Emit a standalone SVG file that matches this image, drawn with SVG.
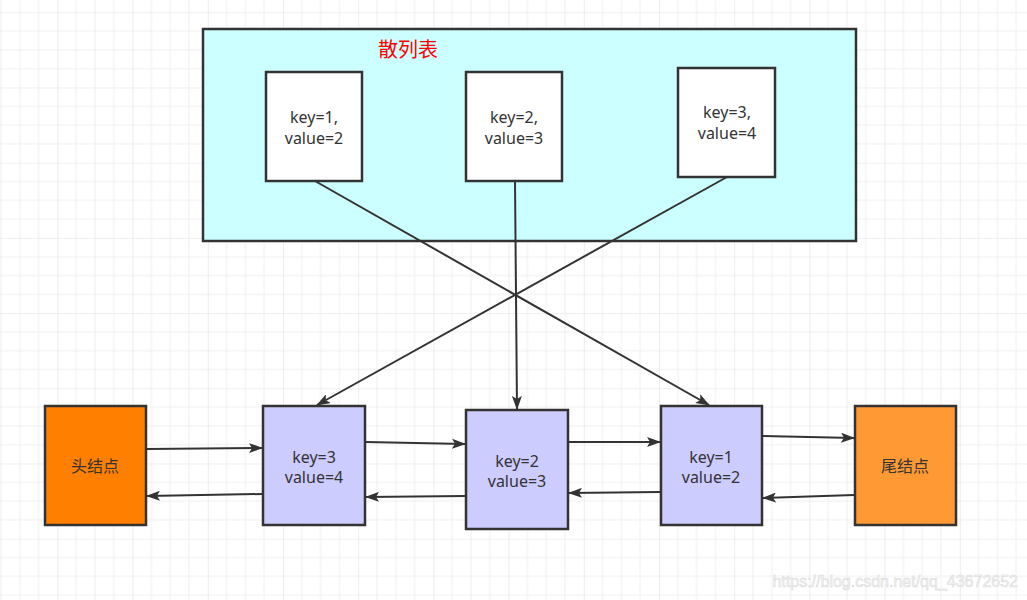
<svg xmlns="http://www.w3.org/2000/svg" width="1027" height="600" viewBox="0 0 1027 600">
<defs>
<pattern id="grid" x="57.4" y="87.5" width="75.2" height="75.2" patternUnits="userSpaceOnUse">
<path d="M18.8 0V75.2M37.6 0V75.2M56.4 0V75.2M0 18.8H75.2M0 37.6H75.2M0 56.4H75.2" stroke="#efefef" stroke-width="1" fill="none"/>
<path d="M0 0V75.2M0 0H75.2" stroke="#e2e2e2" stroke-width="1.2" fill="none"/>
</pattern>
<marker id="arr" viewBox="0 0 14 10" refX="13" refY="5" markerWidth="14" markerHeight="10" markerUnits="userSpaceOnUse" orient="auto">
<path d="M0 0L14 5L0 10L3 5Z" fill="#333"/>
</marker>
<style>
.box{stroke:#333;stroke-width:2.5}
.t{font-family:"Noto Sans","Noto Sans CJK SC",sans-serif;font-size:16px;fill:#333;text-anchor:middle}
.c{stroke:#333;stroke-width:2;fill:none;marker-end:url(#arr)}
</style>
</defs>
<rect width="1027" height="600" fill="#fff"/>
<rect width="1027" height="600" fill="url(#grid)"/>
<g id="hashtable">
<rect class="box" x="203" y="29" width="653" height="212" fill="#CCFFFF"/>
<text x="408" y="57" font-family="'Noto Sans CJK SC',sans-serif" font-size="20" fill="#FF0000" text-anchor="middle">散列表</text>
</g>
<g id="h1"><rect class="box" x="266" y="72" width="96" height="109" fill="#fff"/><text class="t" x="314" y="123">key=1,</text><text class="t" x="314" y="144">value=2</text></g>
<g id="h2"><rect class="box" x="466" y="72" width="96" height="109" fill="#fff"/><text class="t" x="514" y="123">key=2,</text><text class="t" x="514" y="144">value=3</text></g>
<g id="h3"><rect class="box" x="678" y="68" width="97" height="109" fill="#fff"/><text class="t" x="727" y="118">key=3,</text><text class="t" x="727" y="139">value=4</text></g>
<g id="head"><rect class="box" x="45" y="406" width="101" height="119" fill="#FF8000"/><text class="t" x="95" y="472">头结点</text></g>
<g id="n3"><rect class="box" x="263" y="406" width="102" height="119" fill="#CCCCFF"/><text class="t" x="314" y="463">key=3</text><text class="t" x="314" y="483">value=4</text></g>
<g id="n2"><rect class="box" x="466" y="410" width="102" height="119" fill="#CCCCFF"/><text class="t" x="517" y="467">key=2</text><text class="t" x="517" y="487">value=3</text></g>
<g id="n1"><rect class="box" x="661" y="406" width="101" height="119" fill="#CCCCFF"/><text class="t" x="711" y="463">key=1</text><text class="t" x="711" y="483">value=2</text></g>
<g id="tail"><rect class="box" x="855" y="406" width="101" height="119" fill="#FF9933"/><text class="t" x="905" y="472">尾结点</text></g>
<g id="connectors">
<path class="c" d="M315 181L709 405"/>
<path class="c" d="M515 181L517 409"/>
<path class="c" d="M727 177L317 405"/>
<path class="c" d="M147 449L262 448"/>
<path class="c" d="M262 494L147 496"/>
<path class="c" d="M366 442L465 444"/>
<path class="c" d="M465 496L366 497"/>
<path class="c" d="M569 442L660 442"/>
<path class="c" d="M660 492L569 493"/>
<path class="c" d="M763 436L854 438"/>
<path class="c" d="M854 495L763 498"/>
</g>
<text x="1018" y="587" font-family="'Liberation Sans',sans-serif" font-size="16" fill="#f4f4f4" stroke="#d8d8d8" stroke-width="0.5" text-anchor="end">https://blog.csdn.net/qq_43672652</text>
</svg>
